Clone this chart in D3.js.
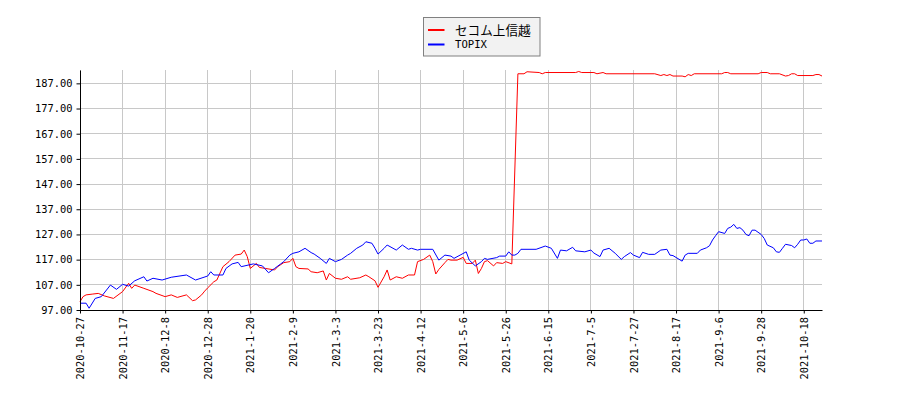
<!DOCTYPE html>
<html>
<head>
<meta charset="utf-8">
<script src="https://cdn.jsdelivr.net/npm/d3@7"></script>
<style>
  body { margin: 0; background: #fff; }
  svg { display: block; }
</style>
</head>
<body>
<div id="chart-area"></div>
<script>
// 1. Data (x = trading-day index from 2020-10-27)
var tickDates = ["2020-10-27", "2020-11-17", "2020-12-8", "2020-12-28", "2021-1-20", "2021-2-9",
    "2021-3-3", "2021-3-23", "2021-4-12", "2021-5-6", "2021-5-26", "2021-6-15", "2021-7-5",
    "2021-7-27", "2021-8-17", "2021-9-6", "2021-9-28", "2021-10-18"];
var tickStep = 14;
var lastDay = 244;
var yTicks = [97, 107, 117, 127, 137, 147, 157, 167, 177, 187];

var seriesNames = ["セコム上信越", "TOPIX"];
var seriesColors = ["#ff0000", "#0000ff"];

var redDays = [0, 1, 2, 4, 6, 8, 11, 14, 16, 17, 18, 21, 24, 25, 28, 30, 32, 35, 37, 38, 40, 41, 42, 44, 45,
    47, 49, 51, 53, 54, 55, 56, 58, 59, 61, 64, 65, 67, 69, 70, 71, 72, 75, 76, 78, 80, 81, 82, 84, 86,
    88, 89, 92, 94, 95, 97, 98, 100, 101, 102, 104, 106, 108, 110, 111, 113, 115, 116, 117, 118, 120,
    121, 122, 124, 126, 127, 129, 130, 131, 132, 133, 134, 136, 137, 139, 140, 142, 144, 146, 147, 151,
    152, 153, 163, 164, 165, 169, 170, 172, 173, 189, 191, 192, 193, 194, 195, 198, 199, 200, 201, 202,
    211, 212, 213, 214, 223, 224, 226, 227, 230, 232, 233, 234, 235, 236, 241, 242, 243, 244];
var redVals = [100.3, 102.3, 103, 103.3, 103.6, 102.6, 101.6, 104.3, 107.6, 105.6, 106.9, 105.6, 104.3, 103.6,
    102.3, 103, 102, 103, 100.7, 101, 103, 104.5, 105.8, 108.2, 108.9, 114.2, 116.2, 118.8, 119.2, 120.8,
    118.2, 113.5, 115.5, 113.9, 113.5, 112.9, 114.2, 115.8, 116.2, 117.5, 114.2, 113.5, 113.3, 112.2,
    111.8, 112.5, 108.9, 111.5, 109.6, 109.2, 110.2, 109.2, 109.8, 110.9, 110.2, 108.6, 106, 110.2,
    112.9, 108.9, 110.2, 109.6, 110.9, 110.9, 116.2, 117.1, 118.8, 116.2, 111.3, 113.1, 115.8, 117.1,
    116.8, 116.8, 117.9, 115.5, 115.5, 116.8, 111.5, 113.5, 116.2, 116.6, 114.5, 115.8, 115.5, 116.2,
    115.3, 190.8, 190.8, 191.6, 191.3, 190.8, 191.3, 191.3, 191.7, 191.3, 191.3, 190.8, 191.3, 190.8,
    190.8, 190.1, 190.5, 190.1, 190.5, 189.9, 189.9, 189.6, 190.5, 190.1, 190.8, 190.8, 191.3, 191.3,
    190.8, 190.8, 191.3, 191.3, 190.8, 190.8, 189.9, 190.1, 190.8, 190.8, 190.1, 190.1, 190.5, 190.5, 189.9];

var blueDays = [0, 2, 3, 5, 7, 10, 12, 14, 16, 18, 21, 22, 24, 27, 30, 35, 38, 42, 43, 44, 47, 48, 50, 52, 53,
    57, 60, 62, 64, 66, 67, 69, 70, 72, 74, 76, 77, 79, 81, 82, 84, 86, 88, 89, 91, 93, 94, 96, 97, 98,
    100, 101, 104, 106, 108, 109, 111, 112, 116, 118, 120, 122, 123, 125, 127, 128, 130, 132, 133, 134,
    137, 138, 140, 141, 142, 143, 144, 145, 150, 153, 155, 157, 158, 160, 162, 163, 166, 168, 169, 171,
    172, 174, 176, 178, 179, 181, 182, 184, 185, 187, 189, 191, 193, 194, 195, 198, 199, 200, 203, 204,
    206, 207, 208, 209, 210, 212, 213, 214, 215, 216, 217, 218, 219, 220, 221, 222, 224, 225, 226, 228,
    229, 230, 231, 232, 234, 235, 236, 237, 238, 239, 240, 241, 242, 244];
var blueVals = [99.7, 99.7, 97.7, 101.6, 102.3, 106.9, 105.2, 107.2, 106.5, 108.6, 110.2, 108.5, 109.6, 108.9,
    110, 110.9, 108.9, 110.5, 112.2, 110.9, 110.9, 113.5, 115.3, 115.9, 114.2, 115.3, 114.5, 111.8, 113.5,
    115.3, 116.2, 118.8, 119.5, 120.1, 121.5, 119.8, 119.2, 117.5, 115.5, 117.5, 116.2, 117.1, 118.8,
    119.5, 121.5, 122.8, 124.1, 123.5, 121.5, 119.2, 121.5, 122.8, 120.8, 122.8, 121.1, 121.5, 120.8,
    121.1, 121.1, 116.8, 118.8, 118.4, 117.5, 118.8, 120.1, 116.8, 114.5, 116.2, 117.5, 117.1, 117.8,
    118.4, 118.4, 120.1, 118.8, 118.8, 119.5, 121.1, 121.1, 122.4, 121.5, 117.5, 120.8, 120.5, 121.9,
    120.5, 120.1, 120.8, 119.6, 118.2, 120.8, 121.5, 119.5, 117.1, 118.2, 119.8, 118.8, 117.8, 119.9,
    119.1, 119.1, 120.8, 121.1, 118.8, 118.6, 116.4, 118.8, 119.5, 119.5, 120.8, 121.7, 122.5, 124.8,
    126.5, 128.1, 127.4, 129.4, 129.9, 131, 129.4, 129.7, 128.7, 127, 126.5, 128.7, 128.7, 127, 125.4,
    122.8, 121.7, 120.1, 119.9, 121.5, 123.1, 122.6, 121.7, 123.1, 124.8, 124.8, 125.2, 123.5, 123.5,
    124.4, 124.4];

// 2. Canvas
var svg_width = 900;
var svg_height = 400;
var margin = { top: 70, right: 78, bottom: 90, left: 80 };
var width = svg_width - margin.left - margin.right;
var height = svg_height - margin.top - margin.bottom;

var svg = d3.select("#chart-area").append("svg")
    .attr("width", svg_width)
    .attr("height", svg_height);

var g = svg.append("g")
    .attr("transform", "translate(" + margin.left + "," + margin.top + ")");

// 3. Scales
var x_scaling = d3.scaleLinear().domain([0, lastDay]).range([0, width]);
var y_scaling = d3.scaleLinear().domain([97, 192.3]).range([height, 0]);

var xTickVals = tickDates.map(function (d, i) { return i * tickStep; });

// 4. Grid
g.append("g")
    .attr("class", "grid")
    .selectAll("line.gx").data(xTickVals).enter().append("line")
    .attr("x1", function (d) { return x_scaling(d); })
    .attr("x2", function (d) { return x_scaling(d); })
    .attr("y1", 0).attr("y2", height);
g.select(".grid")
    .selectAll("line.gy").data(yTicks).enter().append("line")
    .attr("x1", 0).attr("x2", width)
    .attr("y1", function (d) { return y_scaling(d); })
    .attr("y2", function (d) { return y_scaling(d); });
g.selectAll(".grid line")
    .attr("stroke", "#c8c8c8")
    .attr("stroke-width", 1)
    .attr("shape-rendering", "crispEdges");

// 5. Lines
var line = d3.line()
    .x(function (d) { return x_scaling(d[0]); })
    .y(function (d) { return y_scaling(d[1]); });

var redData = redDays.map(function (d, i) { return [d, redVals[i]]; });
var blueData = blueDays.map(function (d, i) { return [d, blueVals[i]]; });

[redData, blueData].forEach(function (data, i) {
    g.append("path")
        .datum(data)
        .attr("fill", "none")
        .attr("stroke", seriesColors[i])
        .attr("stroke-width", 1)
        .attr("d", line);
});

// 6. Axes
var x_axis_call = d3.axisBottom(x_scaling)
    .tickValues(xTickVals)
    .tickFormat(function (d, i) { return tickDates[i]; })
    .tickSizeInner(3.5).tickSizeOuter(0);
var y_axis_call = d3.axisLeft(y_scaling)
    .tickValues(yTicks)
    .tickFormat(d3.format(".2f"))
    .tickSizeInner(3.5).tickSizeOuter(0).tickPadding(4);

var xa = g.append("g")
    .attr("class", "x_axis")
    .attr("transform", "translate(0," + height + ")")
    .call(x_axis_call);
xa.selectAll("text")
    .attr("transform", "rotate(-90)")
    .attr("x", -7)
    .attr("y", 0)
    .attr("dy", "0.35em")
    .attr("text-anchor", "end");

var ya = g.append("g")
    .attr("class", "y_axis")
    .call(y_axis_call);

g.selectAll(".x_axis text, .y_axis text")
    .attr("font-family", "'DejaVu Sans Mono', monospace")
    .attr("font-size", "10.4px")
    .attr("fill", "#000");
g.selectAll(".domain").attr("stroke", "#000");
g.selectAll(".tick line").attr("stroke", "#000");

// 7. Legend
var legend = svg.append("g").attr("class", "Legend_Holder");
legend.append("rect")
    .attr("x", 423.5).attr("y", 17.5)
    .attr("width", 116.5).attr("height", 38.5)
    .attr("fill", "#f2f2f2")
    .attr("stroke", "#808080")
    .attr("stroke-width", 1);

seriesNames.forEach(function (name, i) {
    var row = legend.append("g")
        .attr("transform", "translate(0," + (30 + i * 14.5) + ")");
    row.append("line")
        .attr("x1", 428).attr("x2", 444.5)
        .attr("y1", 0).attr("y2", 0)
        .attr("stroke", seriesColors[i])
        .attr("stroke-width", 2);
    row.append("text")
        .attr("x", 455)
        .attr("y", 0)
        .attr("dy", "0.36em")
        .attr("font-family", i == 0 ? "'Noto Sans CJK JP', sans-serif" : "'DejaVu Sans Mono', monospace")
        .attr("font-size", i == 0 ? "12.6px" : "10.6px")
        .text(name);
});
</script>
</body>
</html>
